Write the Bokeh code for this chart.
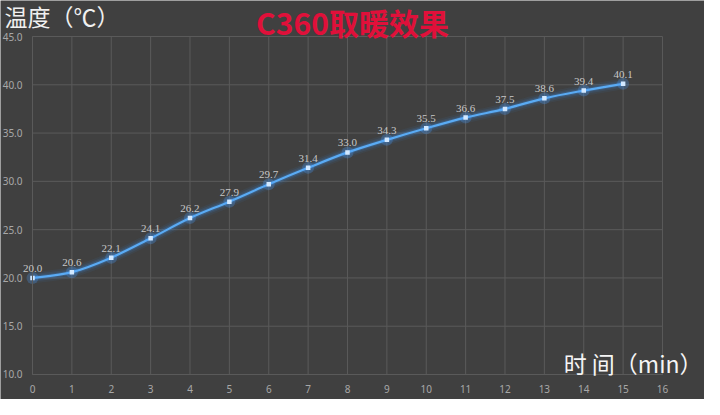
from bokeh.plotting import figure
from bokeh.models import Range1d, FixedTicker, NumeralTickFormatter, Label, LabelSet, ColumnDataSource
from bokeh.embed import file_html
from bokeh.resources import INLINE

# ---- data ----
minutes = list(range(16))
temps = [20.0, 20.6, 22.1, 24.1, 26.2, 27.9, 29.7, 31.4, 33.0, 34.3, 35.5, 36.6, 37.5, 38.6, 39.4, 40.1]
x_ticks = list(range(17))
y_ticks = [10, 15, 20, 25, 30, 35, 40, 45]
title_text = "C360取暖效果"
y_title = "温度（℃）"
x_title = "时 间（min）"

BG = "#404040"
GRID = "#5a5a5a"
TICK = "#a8a8a8"
FONT = "Noto Sans"

X_MIN, X_MAX = x_ticks[0], x_ticks[-1]
Y_MIN, Y_MAX = y_ticks[0], y_ticks[-1]

# the frame covers the whole canvas; the ranges are padded so the data area sits inside
p = figure(width=704, height=399, output_backend="svg", toolbar_location=None,
           x_range=Range1d(-0.8127, 17.0667), y_range=Range1d(7.411, 48.728),
           min_border=0, background_fill_color=BG, border_fill_color=BG)
p.outline_line_color = None
p.xgrid.visible = False
p.ygrid.visible = False

p.xaxis.ticker = FixedTicker(ticks=x_ticks)
p.yaxis.ticker = FixedTicker(ticks=y_ticks)
p.yaxis.formatter = NumeralTickFormatter(format="0.0")
p.xaxis.fixed_location = Y_MIN
p.yaxis.fixed_location = X_MIN
p.xaxis.bounds = (X_MIN, X_MAX)
p.yaxis.bounds = (Y_MIN, Y_MAX)
for ax in (p.xaxis, p.yaxis):
    ax.axis_line_color = GRID
    ax.major_tick_line_color = None
    ax.minor_tick_line_color = None
    ax.major_label_text_color = TICK
    ax.major_label_text_font = FONT
    ax.major_label_text_font_size = "10px"
p.xaxis.major_label_standoff = 5
p.yaxis.major_label_standoff = 4

# grid lines over the data area only
p.segment(x0=x_ticks, y0=[Y_MIN] * len(x_ticks), x1=x_ticks, y1=[Y_MAX] * len(x_ticks),
          line_color=GRID, line_width=1)
p.segment(x0=[X_MIN] * len(y_ticks), y0=y_ticks, x1=[X_MAX] * len(y_ticks), y1=y_ticks,
          line_color=GRID, line_width=1)

# smooth line segments (Catmull-Rom style rendering between the data points)
n = len(minutes)
x0, y0, x1, y1, cx0, cy0, cx1, cy1 = [], [], [], [], [], [], [], []
for i in range(n - 1):
    pa = (minutes[max(i - 1, 0)], temps[max(i - 1, 0)])
    pb = (minutes[i], temps[i])
    pc = (minutes[i + 1], temps[i + 1])
    pd = (minutes[min(i + 2, n - 1)], temps[min(i + 2, n - 1)])
    x0.append(pb[0]); y0.append(pb[1]); x1.append(pc[0]); y1.append(pc[1])
    cx0.append(pb[0] + (pc[0] - pa[0]) / 6); cy0.append(pb[1] + (pc[1] - pa[1]) / 6)
    cx1.append(pc[0] - (pd[0] - pb[0]) / 6); cy1.append(pc[1] - (pd[1] - pb[1]) / 6)
seg = ColumnDataSource(dict(x0=x0, y0=y0, x1=x1, y1=y1, cx0=cx0, cy0=cy0, cx1=cx1, cy1=cy1))

for w, a in ((11, 0.07), (7.5, 0.12), (4.5, 0.22)):
    p.bezier(x0="x0", y0="y0", x1="x1", y1="y1", cx0="cx0", cy0="cy0", cx1="cx1", cy1="cy1",
             source=seg, line_color="#3d8fe6", line_width=w, line_alpha=a)
p.bezier(x0="x0", y0="y0", x1="x1", y1="y1", cx0="cx0", cy0="cy0", cx1="cx1", cy1="cy1",
         source=seg, line_color="#5aabf4", line_width=2.2)

src = ColumnDataSource(dict(x=minutes, y=temps, lab=[f"{t:.1f}" for t in temps]))
p.scatter("x", "y", source=src, size=12, marker="circle", fill_color="#4aa0ff", fill_alpha=0.25, line_color=None)
p.scatter("x", "y", source=src, size=4.5, marker="square", fill_color="#d2e8ff", line_color=None)

labels = LabelSet(x="x", y="y", text="lab", source=src, text_align="center", text_baseline="bottom",
                  y_offset=6, text_color="#c8c8c8", text_font_size="11px", text_font=FONT)
p.add_layout(labels)

p.add_layout(Label(x=-0.71, y=47.17, text=y_title, text_font="Noto Sans CJK SC", text_font_size="23px",
                   text_color="#f0f0f0", text_baseline="middle", text_align="left"))
p.add_layout(Label(x=8.127, y=46.55, text=title_text, text_font="Noto Sans CJK SC", text_font_size="30px",
                   text_color="#e0103a", text_baseline="middle", text_align="center",
                   text_font_style="bold"))
p.add_layout(Label(x=17.016, y=11.24, text=x_title, text_font="Noto Sans CJK SC", text_font_size="23px",
                   text_color="#f5f5f5", text_baseline="middle", text_align="right"))

open("out.html", "w").write(file_html(p, INLINE))
